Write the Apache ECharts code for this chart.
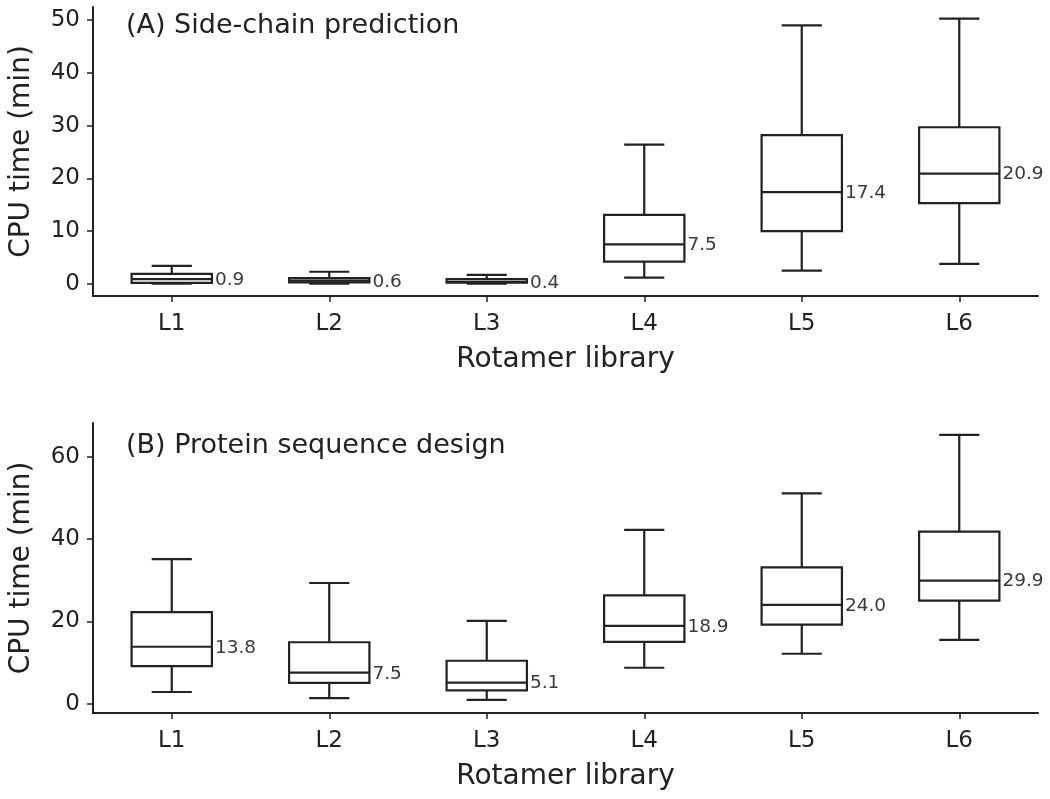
<!DOCTYPE html>
<html>
<head>
<meta charset="utf-8">
<script src="https://cdn.jsdelivr.net/npm/echarts@6/dist/echarts.min.js"></script>
<style>
html,body{margin:0;padding:0;background:#fff;}
#chart{width:1050px;height:799px;}
</style>
</head>
<body>
<div id="chart"></div>
<script>
// ---- data ----
const categories = ['L1', 'L2', 'L3', 'L4', 'L5', 'L6'];

// (A) Side-chain prediction
const A_low  = [0.05, 0.05, 0.05, 1.2, 2.5, 3.8];
const A_q1   = [0.2, 0.3, 0.25, 4.2, 10.0, 15.3];
const A_med  = [0.9, 0.6, 0.4, 7.5, 17.4, 20.9];
const A_q3   = [1.9, 1.1, 0.9, 13.1, 28.2, 29.7];
const A_high = [3.4, 2.3, 1.7, 26.4, 49.0, 50.3];

// (B) Protein sequence design
const B_low  = [2.8, 1.3, 0.9, 8.7, 12.1, 15.5];
const B_q1   = [9.1, 5.0, 3.2, 15.0, 19.2, 25.0];
const B_med  = [13.8, 7.5, 5.1, 18.9, 24.0, 29.9];
const B_q3   = [22.2, 14.9, 10.4, 26.3, 33.1, 41.8];
const B_high = [35.1, 29.3, 20.1, 42.2, 51.1, 65.3];

const yTicksA = [0, 10, 20, 30, 40, 50];
const yTicksB = [0, 20, 40, 60];

const titleA = '(A) Side-chain prediction';
const titleB = '(B) Protein sequence design';
const xName = 'Rotamer library';
const yName = 'CPU time (min)';

// ---- build ----
function rows(low, q1, med, q3, high) {
  return categories.map((c, i) => [i, low[i], q1[i], med[i], q3[i], high[i]]);
}

const INK = '#222';
const FONT = 'DejaVu Sans';

function renderBox(params, api) {
  const i = api.value(0);
  const pLow = api.coord([i, api.value(1)]);
  const pQ1 = api.coord([i, api.value(2)]);
  const pMed = api.coord([i, api.value(3)]);
  const pQ3 = api.coord([i, api.value(4)]);
  const pHigh = api.coord([i, api.value(5)]);
  const band = api.size([1, 0])[0];
  const boxW = band * 0.51;
  const capW = boxW / 2;
  const cx = pMed[0];
  const st = { stroke: INK, lineWidth: 2.2, fill: null };
  const medVal = api.value(3);
  return {
    type: 'group',
    children: [
      { type: 'line', shape: { x1: cx, y1: pQ3[1], x2: cx, y2: pHigh[1] }, style: st },
      { type: 'line', shape: { x1: cx, y1: pQ1[1], x2: cx, y2: pLow[1] }, style: st },
      { type: 'line', shape: { x1: cx - capW / 2, y1: pHigh[1], x2: cx + capW / 2, y2: pHigh[1] }, style: st },
      { type: 'line', shape: { x1: cx - capW / 2, y1: pLow[1], x2: cx + capW / 2, y2: pLow[1] }, style: st },
      { type: 'rect', shape: { x: cx - boxW / 2, y: pQ3[1], width: boxW, height: pQ1[1] - pQ3[1] },
        style: { stroke: INK, lineWidth: 2.2, fill: '#fff' } },
      { type: 'line', shape: { x1: cx - boxW / 2, y1: pMed[1], x2: cx + boxW / 2, y2: pMed[1] }, style: st },
      { type: 'text', style: { text: medVal.toFixed(1), x: cx + boxW / 2 + 3, y: pMed[1] + 1,
        fill: '#3a3a3a', fontSize: 18.5, fontFamily: FONT, align: 'left', verticalAlign: 'middle' } }
    ]
  };
}

function xAxisCfg(gridIndex) {
  return {
    type: 'category', gridIndex: gridIndex, data: categories, boundaryGap: true,
    name: xName, nameLocation: 'middle', nameGap: 50,
    nameTextStyle: { fontSize: 28, color: INK, fontFamily: FONT },
    axisLine: { show: true, onZero: false, lineStyle: { color: INK, width: 2 } },
    axisTick: { show: true, alignWithLabel: true, length: 6, lineStyle: { color: INK, width: 1.5 } },
    axisLabel: { fontSize: 23, color: INK, fontFamily: FONT, margin: 17 },
    splitLine: { show: false }
  };
}

function yAxisCfg(gridIndex, min, max, ticks) {
  return {
    type: 'value', gridIndex: gridIndex, min: min, max: max,
    name: yName, nameLocation: 'middle', nameGap: 57, nameRotate: 90,
    nameTextStyle: { fontSize: 28, color: INK, fontFamily: FONT },
    axisLine: { show: true, onZero: false, lineStyle: { color: INK, width: 2 } },
    axisTick: { show: true, length: 6, customValues: ticks, lineStyle: { color: INK, width: 1.5 } },
    axisLabel: { fontSize: 23, color: INK, fontFamily: FONT, margin: 13, customValues: ticks },
    splitLine: { show: false }
  };
}

const chart = echarts.init(document.getElementById('chart'), null, { renderer: 'canvas' });
chart.setOption({
  backgroundColor: '#fff',
  animation: false,
  title: [
    { text: titleA, left: 121, top: 7, textStyle: { fontSize: 27, fontWeight: 'normal', color: INK, fontFamily: FONT } },
    { text: titleB, left: 121, top: 427, textStyle: { fontSize: 27, fontWeight: 'normal', color: INK, fontFamily: FONT } }
  ],
  grid: [
    { left: 93, right: 12, top: 7, height: 289 },
    { left: 93, right: 12, top: 423, height: 290 }
  ],
  xAxis: [xAxisCfg(0), xAxisCfg(1)],
  yAxis: [yAxisCfg(0, -2.3, 52.5, yTicksA), yAxisCfg(1, -2.3, 68.2, yTicksB)],
  series: [
    { type: 'custom', xAxisIndex: 0, yAxisIndex: 0, renderItem: renderBox,
      encode: { x: 0, y: [1, 2, 3, 4, 5] }, data: rows(A_low, A_q1, A_med, A_q3, A_high) },
    { type: 'custom', xAxisIndex: 1, yAxisIndex: 1, renderItem: renderBox,
      encode: { x: 0, y: [1, 2, 3, 4, 5] }, data: rows(B_low, B_q1, B_med, B_q3, B_high) }
  ]
});
</script>
</body>
</html>
